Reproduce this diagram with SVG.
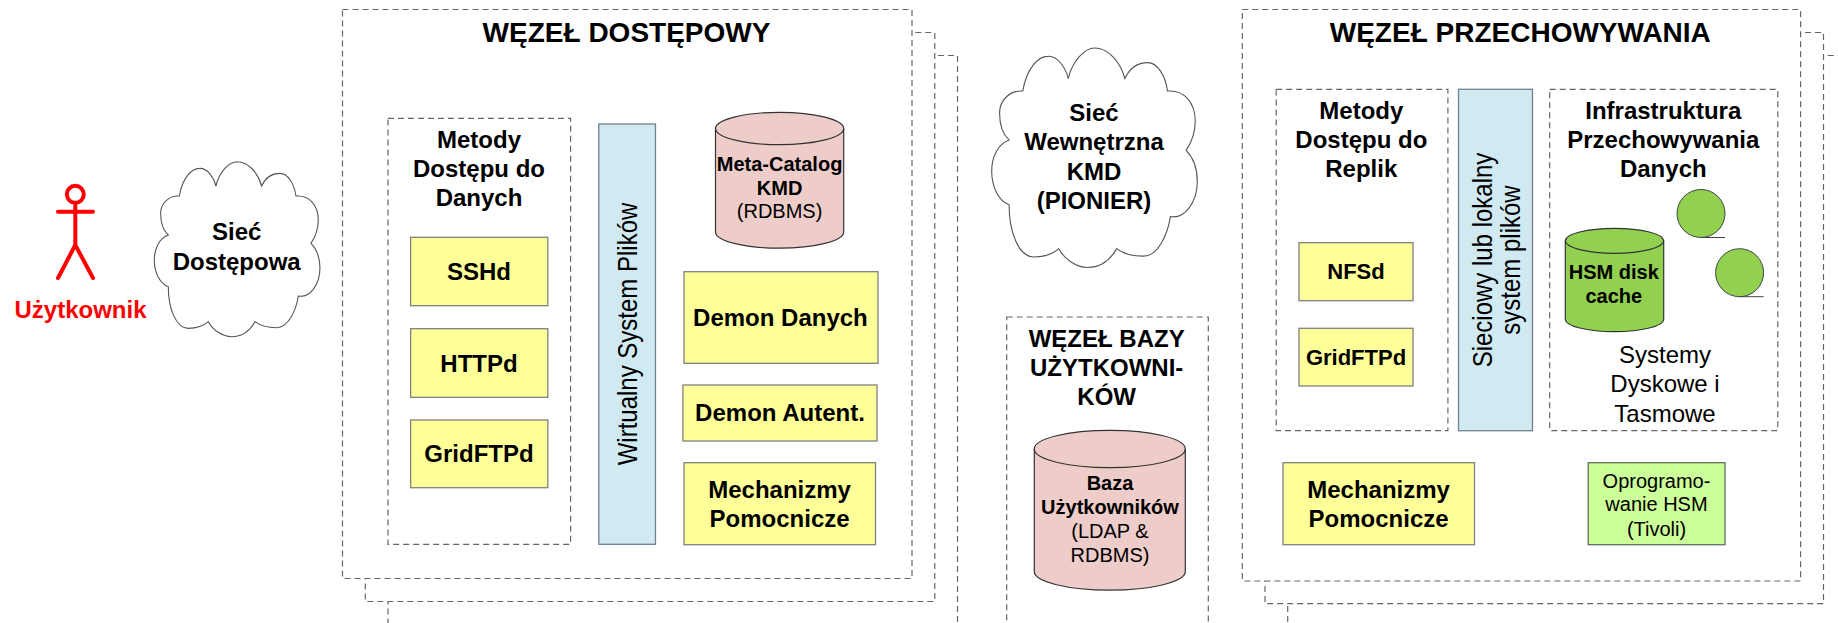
<svg xmlns="http://www.w3.org/2000/svg" xmlns:xlink="http://www.w3.org/1999/xlink" width="1838" height="623" viewBox="0 0 1838 623">
<style>
text{font-family:"Liberation Sans",Arial,sans-serif;text-anchor:middle;fill:#000}
.b{font-weight:700}
.s20{font-size:20px}.s22{font-size:22px}.s24{font-size:24px}.s28{font-size:28px}
.dash{fill:#fff;stroke:#666;stroke-width:1.2;stroke-dasharray:6 4}
.y{fill:#ffff99;stroke:#808080;stroke-width:1.3}
.bl{fill:#d1e9f1;stroke:#708090;stroke-width:1.3}
.g{fill:#ccff99;stroke:#607060;stroke-width:1.3}
.cyl{fill:#eeccc9;stroke:#333;stroke-width:1.2}
.cylg{fill:#92d050;stroke:#333;stroke-width:1.2}
.cloud{fill:#fff;stroke:#555;stroke-width:1.1;vector-effect:non-scaling-stroke}
.tape{fill:#92d050;stroke:#444;stroke-width:1}
.act{fill:none;stroke:#f00;stroke-width:4;stroke-linecap:round;stroke-linejoin:round}
</style>
<defs>
<path id="cloudshape" class="cloud" d="M75,103C85,45 115,20 135,20C160,18 180,50 185,73C195,30 225,0 249,0C280,0 310,30 322,73C335,45 355,35 377,35C400,35 420,65 425,103C465,100 492,130 492,175C492,205 480,230 470,245C490,265 497,290 497,320C497,370 465,410 432,403C425,450 400,498 367,498C340,498 315,490 302,480C285,510 260,525 232,525C205,525 175,505 162,480C145,495 125,500 102,500C65,500 42,440 42,375C15,365 0,330 0,295C0,260 15,230 42,220C25,205 19,180 19,155C19,125 45,100 75,103Z"/>
</defs>
<rect width="1838" height="623" fill="#fff"/>

<g id="user">
<circle class="act" cx="75.3" cy="194.3" r="8.5"/>
<path class="act" d="M75.3,203V245M58,211.700H93M58,278L75.300,245L93,278"/>
<text class="b s24" x="80.500" y="318.300" style="fill:#f00">Użytkownik</text>
</g>

<g id="access-network">
<use xlink:href="#cloudshape" href="#cloudshape" transform="translate(154.300,161.700) scale(.3333)"/>
<text class="b s24" x="236.700" y="240">Sieć</text>
<text class="b s24" x="236.700" y="270">Dostępowa</text>
</g>

<g id="access-node">
<rect class="dash" x="388" y="55.500" width="569.500" height="590"/>
<rect class="dash" x="365.300" y="32.500" width="569.500" height="569"/>
<rect class="dash" x="342.500" y="9.500" width="569.500" height="569"/>
<text class="b s28" x="626.500" y="42.300">WĘZEŁ DOSTĘPOWY</text>
</g>

<g id="access-methods">
<rect class="dash" x="388" y="118.300" width="182.600" height="426"/>
<text class="b s24" x="479" y="147.700">Metody</text>
<text class="b s24" x="479" y="176.700">Dostępu do</text>
<text class="b s24" x="479" y="205.700">Danych</text>
</g>
<g id="sshd"><rect class="y" x="410.600" y="237.300" width="137.200" height="68.400"/><text class="b s24" x="479" y="280">SSHd</text></g>
<g id="httpd"><rect class="y" x="410.600" y="328.700" width="137.200" height="68.600"/><text class="b s24" x="479" y="371.700">HTTPd</text></g>
<g id="gridftpd"><rect class="y" x="410.600" y="420" width="137.200" height="67.700"/><text class="b s24" x="479" y="462.300">GridFTPd</text></g>
<g id="vfs"><rect class="bl" x="598.800" y="124" width="56.700" height="420.300"/><text class="s24" transform="translate(637,334) rotate(-90) scale(1,1.170)">Wirtualny System Plików</text></g>
<g id="meta-catalog">
<path class="cyl" d="M715.500,128.500A64.100,16.200 0 0 1 843.700,128.500V232A64.100,16.200 0 0 1 715.500,232Z"/>
<path class="cyl" style="fill:none" d="M715.500,128.500A64.100,16.200 0 0 0 843.700,128.500"/>
<text class="b s20" x="779.600" y="171">Meta-Catalog</text>
<text class="b s20" x="779.600" y="195">KMD</text>
<text class="s20" x="779.600" y="218.300">(RDBMS)</text>
</g>
<g id="data-daemon"><rect class="y" x="684" y="271.700" width="194" height="91.600"/><text class="b s24" x="780.400" y="326">Demon Danych</text></g>
<g id="auth-daemon"><rect class="y" x="682.900" y="385" width="194.100" height="56"/><text class="b s24" x="780" y="421">Demon Autent.</text></g>
<g id="aux-access"><rect class="y" x="684" y="462.700" width="191.500" height="82"/><text class="b s24" x="779.600" y="498.300">Mechanizmy</text><text class="b s24" x="779.600" y="526.700">Pomocnicze</text></g>

<g id="internal-network">
<use xlink:href="#cloudshape" href="#cloudshape" transform="translate(991.700,48) scale(.4137,.418)"/>
<text class="b s24" x="1094" y="121">Sieć</text>
<text class="b s24" x="1094" y="150.400">Wewnętrzna</text>
<text class="b s24" x="1094" y="179.800">KMD</text>
<text class="b s24" x="1094" y="209">(PIONIER)</text>
</g>

<g id="user-db-node">
<rect class="dash" x="1006.700" y="317" width="201.600" height="330"/>
<text class="b s24" x="1106.700" y="346.700">WĘZEŁ BAZY</text>
<text class="b s24" x="1106.700" y="376.400">UŻYTKOWNI-</text>
<text class="b s24" x="1106.700" y="405.400">KÓW</text>
</g>
<g id="user-db">
<path class="cyl" d="M1034.300,449A75.500,18.700 0 0 1 1185.300,449V571.500A75.500,18.700 0 0 1 1034.300,571.500Z"/>
<path class="cyl" style="fill:none" d="M1034.300,449A75.500,18.700 0 0 0 1185.300,449"/>
<text class="b s20" x="1110" y="489.800">Baza</text>
<text class="b s20" x="1110" y="514">Użytkowników</text>
<text class="s20" x="1110" y="538">(LDAP &amp;</text>
<text class="s20" x="1110" y="561.500">RDBMS)</text>
</g>

<g id="storage-node">
<rect class="dash" x="1287.700" y="55.500" width="558.300" height="590"/>
<rect class="dash" x="1265" y="32.500" width="558.500" height="571.200"/>
<rect class="dash" x="1242.300" y="9.500" width="558.300" height="571.500"/>
<text class="b s28" x="1520.300" y="42.300">WĘZEŁ PRZECHOWYWANIA</text>
</g>
<g id="replica-methods">
<rect class="dash" x="1276.200" y="89.300" width="171.700" height="341.400"/>
<text class="b s24" x="1361.300" y="119">Metody</text>
<text class="b s24" x="1361.300" y="148">Dostępu do</text>
<text class="b s24" x="1361.300" y="177">Replik</text>
</g>
<g id="nfsd"><rect class="y" x="1299" y="242.700" width="114" height="58"/><text class="b s22" x="1356" y="279.300">NFSd</text></g>
<g id="gridftpd-storage"><rect class="y" x="1299" y="328.300" width="114" height="57.700"/><text class="b s22" x="1356" y="365">GridFTPd</text></g>
<g id="fs"><rect class="bl" x="1458.500" y="89.300" width="74" height="341.400"/>
<text class="s24" transform="translate(1491.700,260) rotate(-90) scale(1,1.170)">Sieciowy lub lokalny</text>
<text class="s24" transform="translate(1520,260) rotate(-90) scale(1,1.170)">system plików</text></g>
<g id="storage-infra">
<rect class="dash" x="1549.700" y="89.300" width="228.100" height="341.400"/>
<text class="b s24" x="1663.300" y="119">Infrastruktura</text>
<text class="b s24" x="1663.300" y="148">Przechowywania</text>
<text class="b s24" x="1663.300" y="177">Danych</text>
<text class="s24" x="1665" y="363.300">Systemy</text>
<text class="s24" x="1665" y="392.300">Dyskowe i</text>
<text class="s24" x="1665" y="421.500">Tasmowe</text>
</g>
<g id="tape-1"><circle class="tape" cx="1701" cy="213.500" r="24"/><path class="tape" d="M1701,237.500H1725"/></g>
<g id="tape-2"><circle class="tape" cx="1739.600" cy="272.700" r="24"/><path class="tape" d="M1739.600,296.700H1763.600"/></g>
<g id="hsm-cache">
<path class="cylg" d="M1565.300,240.800A49.200,12.500 0 0 1 1663.700,240.800V319.200A49.200,12.500 0 0 1 1565.300,319.200Z"/>
<path class="cylg" style="fill:none" d="M1565.300,240.800A49.200,12.500 0 0 0 1663.700,240.800"/>
<text class="b s20" x="1613.800" y="279.300">HSM disk</text>
<text class="b s20" x="1613.800" y="303.300">cache</text>
</g>
<g id="aux-storage"><rect class="y" x="1283" y="462.700" width="191.500" height="82"/><text class="b s24" x="1378.600" y="498.300">Mechanizmy</text><text class="b s24" x="1378.600" y="526.700">Pomocnicze</text></g>
<g id="hsm-software"><rect class="g" x="1588.200" y="462.700" width="136.800" height="82"/>
<text class="s20" x="1656.500" y="487.700">Oprogramo-</text>
<text class="s20" x="1656.500" y="511">wanie HSM</text>
<text class="s20" x="1656.500" y="536">(Tivoli)</text></g>
</svg>
